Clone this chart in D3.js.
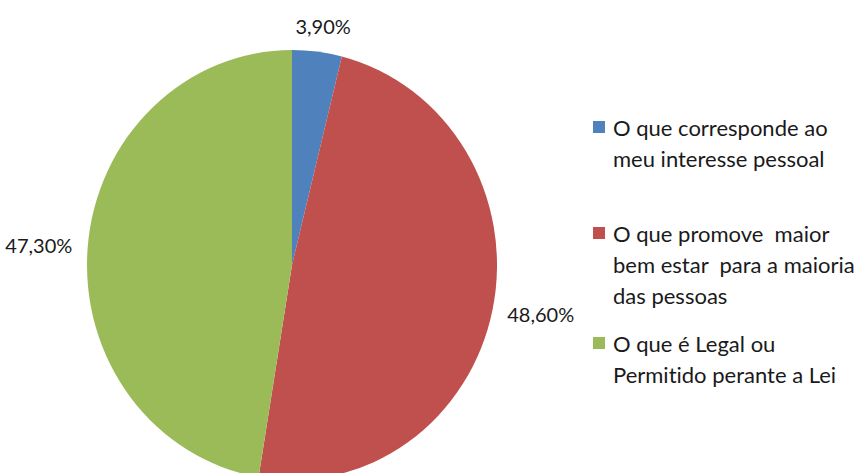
<!DOCTYPE html>
<html>
<head>
<meta charset="utf-8">
<script src="https://cdn.jsdelivr.net/npm/d3@7"></script>
<style>
  body { margin: 0; background: #fff; }
  text { font-family: Lato, "Open Sans", sans-serif; fill: #1a1a1a; font-variant-ligatures: none; }
</style>
</head>
<body>
<div id="chart"></div>
<script>
// chart data
const categories = [
    ['O que corresponde ao', 'meu interesse pessoal'],
    ['O que promove  maior', 'bem estar  para a maioria', 'das pessoas'],
    ['O que é Legal ou', 'Permitido perante a Lei']
];
const values = [3.9, 48.6, 47.3];
const valueLabels = ['3,90%', '48,60%', '47,30%'];
const colors = ['#4F81BD', '#C0504D', '#9BBB59'];

const width = 863, height = 473;
const cx = 292, cy = 265, radius = 205, yStretch = 215 / 205;

const svg = d3.select('#chart').append('svg')
    .attr('width', width)
    .attr('height', height);

const pie = d3.pie().sort(null).value(d => d);
const arcs = pie(values);
const arc = d3.arc().innerRadius(0).outerRadius(radius);

// pie slices (slightly taller than wide, like the reference)
const pieG = svg.append('g')
    .attr('transform', `translate(${cx},${cy}) scale(1,${yStretch})`);
pieG.selectAll('path').data(arcs)
    .join('path')
    .attr('d', arc)
    .attr('fill', (d, i) => colors[i]);

// value labels outside the slices
const labelR = 218;
svg.append('g').selectAll('text').data(arcs)
    .join('text')
    .attr('x', d => {
        const a = (d.startAngle + d.endAngle) / 2;
        return cx + Math.sin(a) * labelR + Math.sin(a) * 36;
    })
    .attr('y', d => {
        const a = (d.startAngle + d.endAngle) / 2;
        return cy - Math.cos(a) * labelR * yStretch - Math.cos(a) * 12;
    })
    .attr('text-anchor', 'middle')
    .attr('dominant-baseline', 'central')
    .style('font-size', '20px')
    .text((d, i) => valueLabels[i]);

// legend
const legendRows = [127, 233, 343];
const legend = svg.append('g').attr('transform', 'translate(593,0)');
const items = legend.selectAll('g').data(categories)
    .join('g')
    .attr('transform', (d, i) => `translate(0,${legendRows[i]})`);
items.append('rect')
    .attr('x', 0).attr('y', -6)
    .attr('width', 12).attr('height', 12)
    .attr('fill', (d, i) => colors[i]);
items.selectAll('text').data(d => d)
    .join('text')
    .attr('x', 20)
    .attr('y', (d, j) => j * 31)
    .attr('dominant-baseline', 'central')
    .style('font-size', '22px')
    .attr('xml:space', 'preserve')
    .text(d => d);
</script>
</body>
</html>
